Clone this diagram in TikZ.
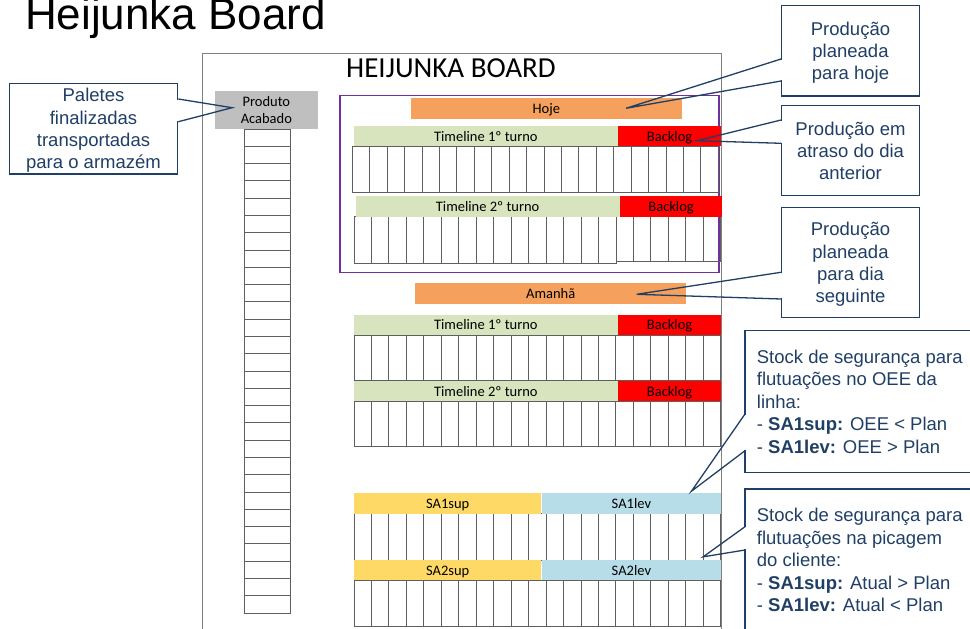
\documentclass[tikz,border=0pt]{standalone}
\usepackage{fontspec}
\setmainfont{Carlito}
\newfontfamily\notefont{Liberation Sans}
\usepackage{tikz}
\usetikzlibrary{positioning,fit,calc}
\definecolor{navy}{HTML}{203F66}
\definecolor{dayorange}{HTML}{F5A05C}
\definecolor{timegreen}{HTML}{D7E4BD}
\definecolor{backred}{HTML}{FF0000}
\definecolor{supyellow}{HTML}{FFD966}
\definecolor{levblue}{HTML}{B7DEE8}
\definecolor{stockgray}{HTML}{BFBFBF}
\definecolor{boxpurple}{HTML}{7030A0}
\definecolor{framegray}{HTML}{808080}
\definecolor{cellgray}{HTML}{5F5F5F}

\begin{document}
\begin{tikzpicture}[x=1pt, y=-1pt,
  bar/.style={inner sep=0pt, minimum height=20.5pt, text height=12pt, text depth=2pt,
              font=\fontsize{14.5}{17.5}\selectfont, text=black},
  timeline/.style={bar, fill=timegreen, minimum width=263.7pt},
  backlog/.style={bar, fill=backred, minimum width=103pt},
  sup/.style={bar, fill=supyellow, minimum width=187.3pt},
  lev/.style={bar, fill=levblue, minimum width=179.4pt},
  day/.style={bar, fill=dayorange, minimum width=270.5pt, minimum height=20.7pt},
  cell/.style={draw=cellgray, line width=0.9pt},
  note/.style={draw=navy, line width=1.3pt, fill=white, inner sep=0pt},
  widenote/.style={inner sep=0pt, anchor=north west, minimum width=240pt},
  notetext/.style={inner sep=0pt, align=center, text=navy, font=\notefont\fontsize{18.5}{22.4}\selectfont},
  ptr/.style={draw=navy, line width=1.3pt, line join=miter}
]
  \useasboundingbox (0,0) rectangle (970,629);
  \clip (0,0) rectangle (970,629);

  % board frame and today box
  \draw[framegray, line width=1pt] (202,640) |- (721,53) -- (721,640);
  \draw[boxpurple, line width=1.3pt] (340,95.7) rectangle (719,272.3);

  % slot grids
  \foreach \i in {0,...,20}{\draw[cell] (352.3+\i*17.43,146.7) rectangle ++(17.43,45.3);}
  \foreach \i in {0,...,14}{\draw[cell] (354+\i*17.47,216.7) rectangle ++(17.47,46.6);}
  \foreach \i in {0,...,5}{\draw[cell] (616+\i*17.45,216.7) rectangle ++(17.45,45);}
  \foreach \y/\h in {335/45.7, 401.7/45, 513.3/46.7, 580/46}
    \foreach \i in {0,...,20}{\draw[cell] (354+\i*17.462,\y) rectangle ++(17.462,\h);}
  \foreach \k in {0,...,27}{\draw[cell] (244.3,129+\k*17.286) rectangle ++(45.7,17.286);}

  % bars
  \node[day] (hoje) at (546.35,108.65) {Hoje};
  \node[timeline] (tl1) at (485.85,136) {Timeline 1º turno};
  \node[backlog,right=0pt of tl1] (bl1) {Backlog};
  \node[timeline,minimum height=20.7pt] (tl2) at (487.65,206.35) {Timeline 2º turno};
  \node[backlog,minimum width=102.4pt,minimum height=20.7pt,right=0pt of tl2] (bl2) {Backlog};
  \node[day] (amanha) at (550.7,293.65) {Amanhã};
  \node[timeline] (tl3) at (485.85,324.85) {Timeline 1º turno};
  \node[backlog,right=0pt of tl3] (bl3) {Backlog};
  \node[timeline] (tl4) at (485.85,391.2) {Timeline 2º turno};
  \node[backlog,right=0pt of tl4] (bl4) {Backlog};
  \node[sup] (sa1sup) at (447.65,503.3) {SA1sup};
  \node[lev,right=0pt of sa1sup] (sa1lev) {SA1lev};
  \node[sup] (sa2sup) at (447.65,570) {SA2sup};
  \node[lev,right=0pt of sa2sup] (sa2lev) {SA2lev};
  \node[fill=stockgray, inner sep=0pt, minimum width=102.7pt, minimum height=38.3pt,
        align=center, font=\fontsize{14.5}{17.5}\selectfont] (prod) at (266.35,109.85) {Produto\\Acabado};

  % titles
  \node[anchor=base west, inner sep=0pt, font=\notefont\fontsize{44}{50}\selectfont] (title) at (25,30) {Heijunka Board};
  \node[anchor=base, inner sep=0pt, font=\fontsize{29}{34}\selectfont] (board) at (451,77.3) {HEIJUNKA BOARD};

  % callouts (the two lower ones run past the right edge)
  \node[note, fit={(9.3,83.3) (177.7,174)}] (c1) {};
  \node[note, fit={(781.7,5.7) (919.3,96)}] (c2) {};
  \node[note, fit={(781.7,105.7) (919.3,195.3)}] (c3) {};
  \node[note, fit={(781.7,207.7) (919.3,317.3)}] (c4) {};
  \node[widenote, minimum height=141.6pt] (c5) at (745,330.7) {};
  \node[widenote, minimum height=151pt] (c6) at (745,489) {};
  \draw[ptr] (c5.north east) -- (c5.north west) -- (c5.south west) -- (c5.south east);
  \draw[ptr] (c6.north east) -- (c6.north west) -- (c6.south west) -- (c6.south east);
  \node[notetext, below=5.5pt of c1.north] (c1t) {Paletes\\finalizadas\\transportadas\\para o armazém};
  \node[notetext, below=16.4pt of c2.north] (c2t) {Produção\\planeada\\para hoje};
  \node[notetext, below=16.4pt of c3.north] (c3t) {Produção em\\atraso do dia\\anterior};
  \node[notetext, below=15.1pt of c4.north] (c4t) {Produção\\planeada\\para dia\\seguinte};
  \node[notetext, align=left, anchor=north west] (c5t) at ($(c5.north west)+(11.7,19.1)$)
    {Stock de segurança para\\flutuações no OEE da\\linha:\\- \textbf{SA1sup:} OEE < Plan\\- \textbf{SA1lev:} OEE > Plan};
  \node[notetext, align=left, anchor=north west] (c6t) at ($(c6.north west)+(11.7,19.2)$)
    {Stock de segurança para\\flutuações na picagem\\do cliente:\\- \textbf{SA1sup:} Atual > Plan\\- \textbf{SA1lev:} Atual < Plan};

  \coordinate (t1) at ($(prod.west)+(17.3,-2.15)$);
  \coordinate (t2) at ($(hoje.center)+(79.65,-0.35)$);
  \coordinate (t3) at ($(bl1.center)+(27.5,4.7)$);
  \coordinate (t4) at ($(amanha.center)+(86,0.65)$);
  \coordinate (t5) at ($(sa1lev.north)+(60,-1.6)$);
  \coordinate (t6) at ($(sa2lev.north)+(71.7,-2.7)$);
  \foreach \c/\s/\ya/\yb/\t in {c1/east/99/121.7/t1, c2/west/59/81/t2, c3/west/120/143.3/t3,
                                c4/west/272.3/299/t4, c5/west/414/450.7/t5, c6/west/526.7/550/t6}{
    \fill[white] ($(\c.\s |- 0,\ya)+(-1.6,0.6)$) rectangle ($(\c.\s |- 0,\yb)+(1.6,-0.6)$);
    \draw[ptr] (\c.\s |- 0,\ya) -- (\t) -- (\c.\s |- 0,\yb);
  }
\end{tikzpicture}
\end{document}
